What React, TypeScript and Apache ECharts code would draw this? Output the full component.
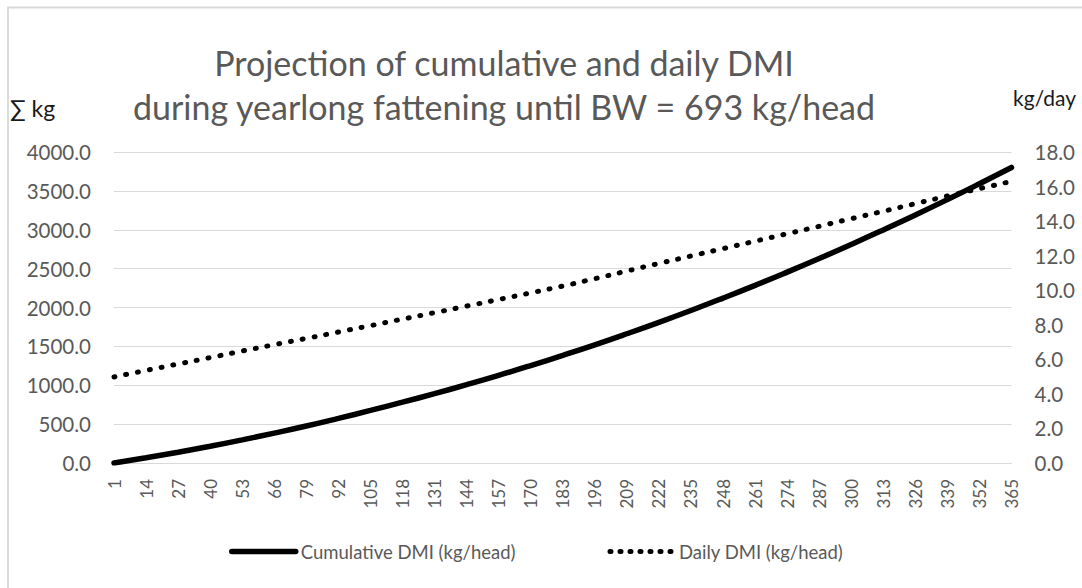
import React, { useEffect, useRef } from "react";
import * as echarts from "echarts";

const days: string[] = [
  "1", "14", "27", "40", "53", "66", "79", "92", "105", "118", "131", "144", "157", "170", "183",
  "196", "209", "222", "235", "248", "261", "274", "287", "300", "313", "326", "339", "352", "365",
];

const cumulativeDMI: number[] = [
  0, 67, 139, 216, 298, 385, 476, 574, 676, 782, 892, 1007, 1127, 1253, 1384,
  1520, 1662, 1809, 1962, 2121, 2285, 2455, 2630, 2811, 2998, 3190, 3388, 3592, 3801,
];

const dailyDMI: number[] = [
  4.98, 5.36, 5.73, 6.1, 6.48, 6.85, 7.21, 7.58, 7.95, 8.33, 8.7, 9.08, 9.46, 9.85, 10.24,
  10.67, 11.11, 11.55, 11.98, 12.41, 12.84, 13.27, 13.7, 14.14, 14.57, 15.01, 15.45, 15.88, 16.3,
];

const titleLines: string[] = [
  "Projection of cumulative and daily DMI",
  "during yearlong fattening until BW = 693 kg/head",
];
const leftUnit = "∑ kg";
const rightUnit = "kg/day";
const seriesNames: string[] = ["Cumulative DMI (kg/head)", "Daily DMI (kg/head)"];

const FONT = "Lato, 'Open Sans', sans-serif";
const GREY = "#595959";

export default function App() {
  const ref = useRef<HTMLDivElement>(null);
  useEffect(() => {
    if (!ref.current) return;
    const chart = echarts.init(ref.current, undefined, { renderer: "svg" });
    chart.setOption({
      animation: false,
      backgroundColor: "#ffffff",
      textStyle: { fontFamily: FONT },
      graphic: [
        {
          type: "rect",
          shape: { x: 8, y: 7.5, width: 1200, height: 800 },
          style: { fill: "none", stroke: "#d9d9d9", lineWidth: 1.8 },
          silent: true,
        },
        {
          type: "text",
          x: 504,
          y: 62,
          style: {
            text: titleLines[0],
            fontFamily: FONT,
            fontSize: 34,
            fill: GREY,
            textAlign: "center",
            textVerticalAlign: "middle",
          },
        },
        {
          type: "text",
          x: 504,
          y: 106,
          style: {
            text: titleLines[1],
            fontFamily: FONT,
            fontSize: 34,
            fill: GREY,
            textAlign: "center",
            textVerticalAlign: "middle",
          },
        },
        {
          type: "text",
          x: 10,
          y: 108,
          style: {
            text: leftUnit,
            fontFamily: FONT,
            fontSize: 23,
            fill: "#1a1a1a",
            textAlign: "left",
            textVerticalAlign: "middle",
          },
        },
        {
          type: "text",
          x: 1076,
          y: 97,
          style: {
            text: rightUnit,
            fontFamily: FONT,
            fontSize: 21,
            fill: "#1a1a1a",
            textAlign: "right",
            textVerticalAlign: "middle",
          },
        },
      ],
      legend: {
        left: 229,
        top: 542,
        padding: 0,
        itemWidth: 64,
        itemHeight: 14,
        itemGap: 92,
        itemStyle: { opacity: 0 },
        textStyle: { fontFamily: FONT, fontSize: 18.5, color: GREY },
        data: [
          { name: seriesNames[0], lineStyle: { width: 5.5 } },
          { name: seriesNames[1], lineStyle: { width: 5, type: [1, 9], cap: "round" } },
        ],
      },
      grid: { left: 114, right: 70.5, top: 152, bottom: 125 },
      xAxis: {
        type: "category",
        data: days,
        boundaryGap: false,
        axisLine: { lineStyle: { color: "#d9d9d9", width: 1 } },
        axisTick: { show: false },
        axisLabel: {
          rotate: 90,
          interval: 0,
          margin: 16,
          fontSize: 17,
          color: GREY,
          fontFamily: FONT,
        },
      },
      yAxis: [
        {
          type: "value",
          min: 0,
          max: 4000,
          interval: 500,
          axisLine: { show: false },
          axisTick: { show: false },
          splitLine: { lineStyle: { color: "#d9d9d9", width: 1 } },
          axisLabel: {
            margin: 23,
            fontSize: 20.5,
            color: GREY,
            fontFamily: FONT,
            formatter: (v: number) => v.toFixed(1),
          },
        },
        {
          type: "value",
          min: 0,
          max: 18,
          interval: 2,
          axisLine: { show: false },
          axisTick: { show: false },
          splitLine: { show: false },
          axisLabel: {
            margin: 23,
            fontSize: 20.5,
            color: GREY,
            fontFamily: FONT,
            formatter: (v: number) => v.toFixed(1),
          },
        },
      ],
      series: [
        {
          name: seriesNames[0],
          type: "line",
          yAxisIndex: 0,
          data: cumulativeDMI,
          smooth: true,
          symbol: "none",
          lineStyle: { color: "#000000", width: 5.5, cap: "round" },
          itemStyle: { color: "#000000" },
        },
        {
          name: seriesNames[1],
          type: "line",
          yAxisIndex: 1,
          data: dailyDMI,
          smooth: true,
          symbol: "none",
          lineStyle: { color: "#000000", width: 5, type: [1, 11], cap: "round" },
          itemStyle: { color: "#000000" },
        },
      ],
    });
    return () => chart.dispose();
  }, []);
  return (
    <div
      ref={ref}
      style={{ position: "absolute", left: 0, top: 0, width: 1082, height: 588, background: "#fff" }}
    />
  );
}
